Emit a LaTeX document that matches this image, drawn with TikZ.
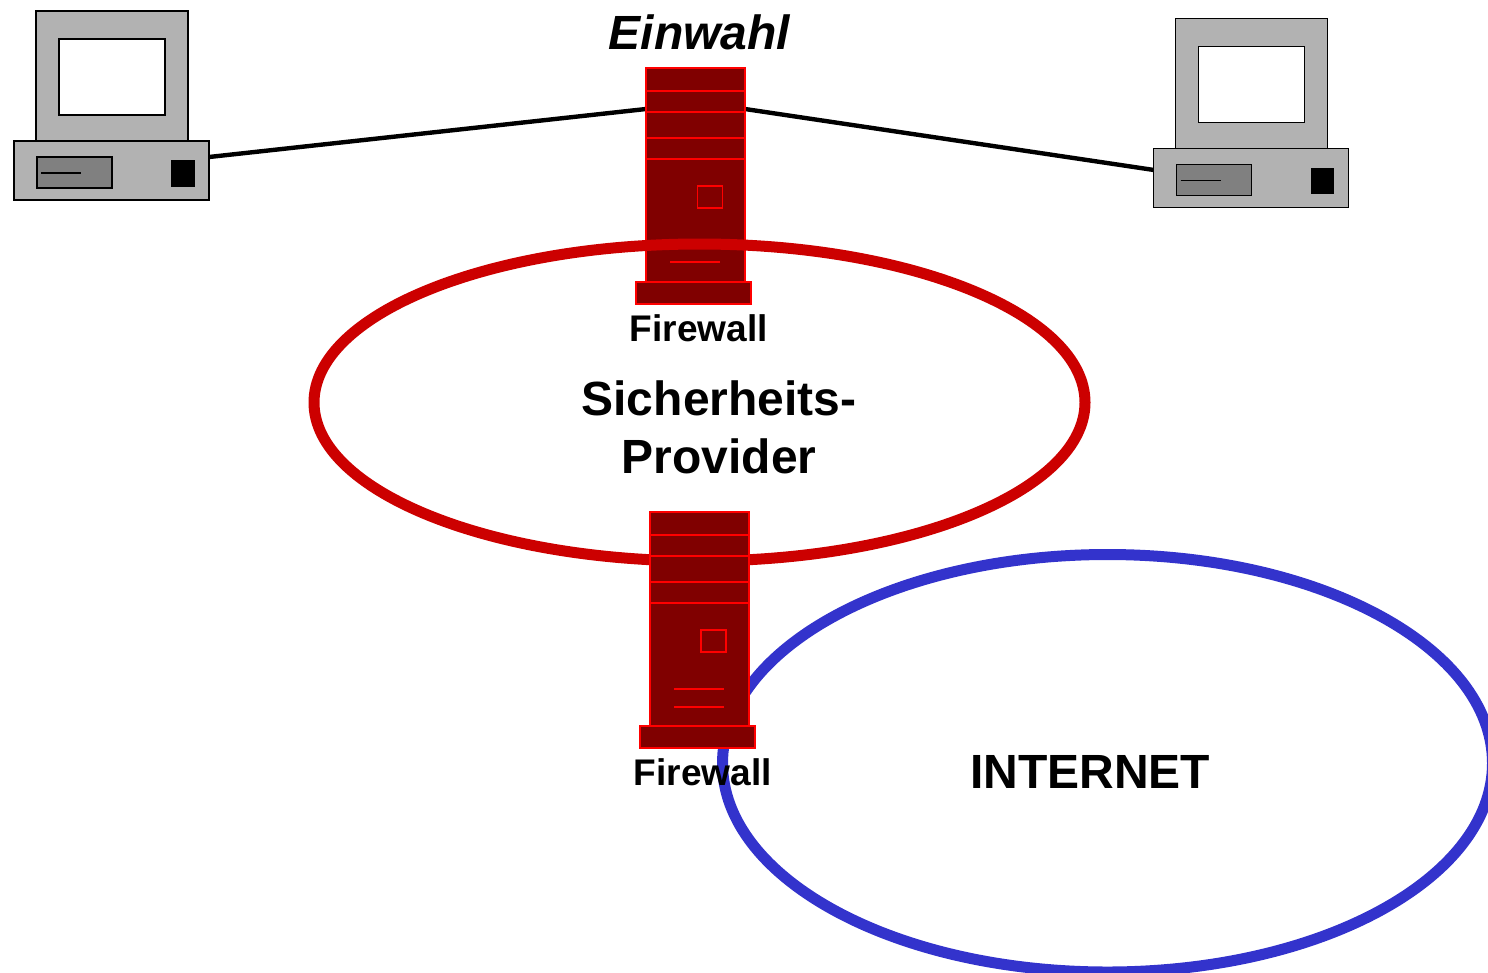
\documentclass[tikz,border=0pt]{standalone}
\usepackage{fontspec}
\setmainfont{Liberation Sans}
\usetikzlibrary{shapes.geometric}
\definecolor{pcgrey}{HTML}{B2B2B2}
\definecolor{drivegrey}{HTML}{808080}
\definecolor{towerfill}{HTML}{800000}
\definecolor{towerline}{HTML}{FF0000}
\definecolor{ringred}{HTML}{CC0000}
\definecolor{ringblue}{HTML}{3333CC}
\newlength{\pxu}\setlength{\pxu}{0.75pt}
% name, x1, y1, x2, y2, style : rectangle node given by its pixel corners
\newcommand{\pixbox}[6]{%
  \pgfmathsetmacro{\bw}{(#4)-(#2)}\pgfmathsetmacro{\bh}{(#5)-(#3)}%
  \pgfmathsetmacro{\bx}{((#2)+(#4))/2}\pgfmathsetmacro{\by}{((#3)+(#5))/2}%
  \node[#6, minimum width=\bw\pxu, minimum height=\bh\pxu] (#1) at (\bx,\by) {};%
}
% prefix, dx, dy : a computer
\newcommand{\computer}[3]{%
  \pixbox{#1mon}{36+#2}{11+#3}{188+#2}{141+#3}{pcpart, fill=pcgrey}
  \pixbox{#1scr}{59+#2}{39+#3}{165+#2}{115+#3}{pcpart, fill=white}
  \pixbox{#1base}{14+#2}{141+#3}{209+#2}{200+#3}{pcpart, fill=pcgrey}
  \pixbox{#1drv}{37+#2}{157+#3}{112+#2}{188+#3}{pcpart, fill=drivegrey}
  \pixbox{#1btn}{172+#2}{161+#3}{194+#2}{186+#3}{pcpart, fill=black}
  \coordinate (#1sa) at (41+#2,173+#3);
  \coordinate (#1sb) at (81+#2,173+#3);
  \draw[pcline] (#1sa) -- (#1sb);
}
% prefix, dx, dy : a tower
\newcommand{\towerbody}[3]{%
  \pixbox{#1body}{646+#2}{68+#3}{745+#2}{282+#3}{towerpart}
  \foreach \yy/\nn in {91/a,112/b,138/c,159/d}{
    \coordinate (#1l\nn) at (646+#2,\yy+#3);
    \coordinate (#1r\nn) at (745+#2,\yy+#3);
    \draw[towerthin] (#1l\nn) -- (#1r\nn);
  }
  \pixbox{#1sq}{697.5+#2}{186+#3}{722.5+#2}{208+#3}{towerpart}
}
\newcommand{\towerfoot}[3]{%
  \pixbox{#1foot}{636+#2}{282+#3}{751+#2}{304+#3}{towerpart}
}
\tikzset{
  x=0.75pt, y=-0.75pt,
  pcpart/.style={draw=black, line width=1.6\pxu, inner sep=0pt, outer sep=0pt, rectangle},
  pcline/.style={draw=black, line width=1.6\pxu},
  towerpart/.style={draw=towerline, fill=towerfill, line width=1.8\pxu, inner sep=0pt, outer sep=0pt, rectangle},
  towerthin/.style={draw=towerline, line width=1.8\pxu},
  link/.style={draw=black, line width=4.4\pxu},
  ring/.style={ellipse, draw=#1, line width=11\pxu, inner sep=0pt, outer sep=0pt, fill=none},
  smalllabel/.style={font=\bfseries\fontsize{27.8}{32}\selectfont, inner sep=0pt},
  biglabel/.style={font=\bfseries\fontsize{36}{43.5}\selectfont, inner sep=0pt, align=center},
}
\begin{document}
\begin{tikzpicture}
\useasboundingbox (0,0) rectangle (1488,972);
% link end points
\coordinate (portL) at (209,157);
\coordinate (portR) at (1154,170);
\coordinate (hubL) at (646,109);
\coordinate (hubR) at (745,109);
\draw[link] (portL) -- (hubL);
\draw[link] (hubR) -- (portR);
\computer{pcl}{0}{0}
\computer{pcr}{1139.5}{7.5}
% upper tower, under the red ring
\towerbody{ta}{0}{0}
\coordinate (tala) at (670,262);
\coordinate (talb) at (720,262);
\draw[towerthin] (tala) -- (talb);
\towerfoot{ta}{0}{0}
\node[ring=ringred, minimum width=771\pxu, minimum height=317\pxu] (provider) at (699.5,402.5) {};
\node[ring=ringblue, minimum width=770\pxu, minimum height=417.5\pxu] (internet) at (1107.5,763.25) {};
% lower tower, over the rings
\towerbody{tb}{3.7}{444}
\coordinate (tbla) at (674,689);
\coordinate (tblb) at (724,689);
\coordinate (tblc) at (674,707);
\coordinate (tbld) at (724,707);
\draw[towerthin] (tbla) -- (tblb);
\draw[towerthin] (tblc) -- (tbld);
\towerfoot{tb}{3.7}{444}
% labels
\node[font=\bfseries\itshape\fontsize{36}{43}\selectfont, inner sep=0pt] (einwahl) at (699.5,32) {Einwahl};
\node[smalllabel] (fwa) at (699,328) {Firewall};
\node[smalllabel] (fwb) at (703,772) {Firewall};
\node[biglabel] (sp) at (719,427) {Sicherheits-\\Provider};
\node[biglabel] (inet) at (1090,772) {INTERNET};
\end{tikzpicture}
\end{document}
